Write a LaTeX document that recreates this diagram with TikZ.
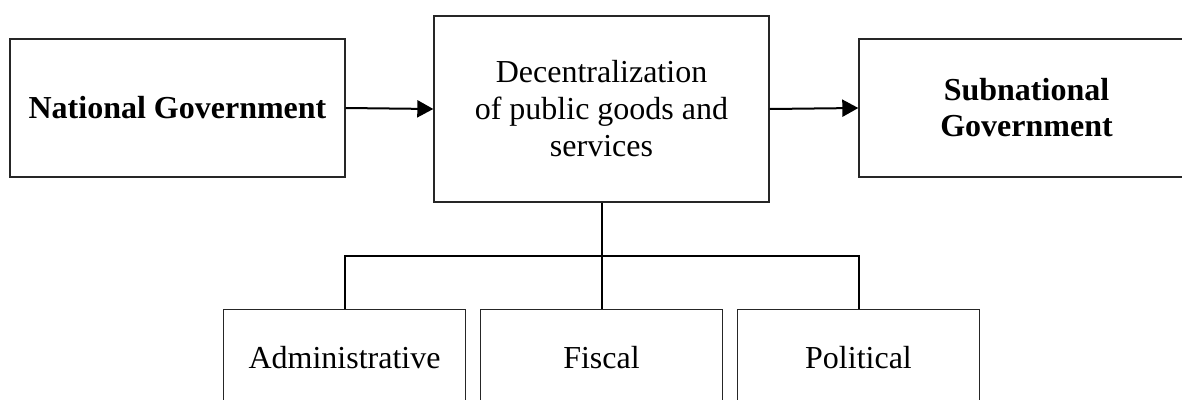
\documentclass[tikz,border=0pt]{standalone}
\usepackage{fontspec}
\setmainfont{Liberation Serif}
\usetikzlibrary{arrows.meta}
\begin{document}
\begin{tikzpicture}[x=1pt,y=-1pt,
  box/.style={draw=black!85, line width=1.4pt, rectangle, inner sep=0pt, align=center,
    font=\fontsize{32}{37}\selectfont},
  topbox/.style={box, minimum width=335pt, minimum height=138pt},
  subbox/.style={box, minimum width=242pt, minimum height=125pt, anchor=north},
  lbl/.style={font=\fontsize{32}{37}\selectfont, anchor=base, inner sep=0pt},
  link/.style={line width=2pt},
  flow/.style={link, -{Triangle[length=16pt,width=17pt]}}]
  \useasboundingbox (0,0) rectangle (1182,399);
  \clip (0,0) rectangle (1182,399);

  % upper row
  \node[topbox, font=\fontsize{32}{37}\selectfont\bfseries] (nat) at (177.5,108) {National Government};
  \node[topbox, minimum height=186pt] (dec) at (601.5,109) {Decentralization\\of public goods and\\services};
  \node[topbox, font=\fontsize{32}{36}\selectfont\bfseries] (sub) at (1026.5,108) {Subnational\\Government};

  \draw[flow] (nat.east) -- (dec.west);
  \draw[flow] (dec.east) -- (sub.west);

  % forms of decentralization
  \node[subbox] (adm) at (344.5,309) {};
  \node[subbox] (fis) at (601.5,309) {};
  \node[subbox] (pol) at (858.5,309) {};
  \node[lbl] (admt) at (344.5,368) {Administrative};
  \node[lbl] (fist) at (601.5,368) {Fiscal};
  \node[lbl] (polt) at (858.5,368) {Political};

  \coordinate (bar) at (601.5,256);
  \draw[link] (dec.south) -- (bar);
  \draw[link] (adm.north) |- (bar) -| (pol.north);
  \draw[link] (bar) -- (fis.north);
\end{tikzpicture}
\end{document}
